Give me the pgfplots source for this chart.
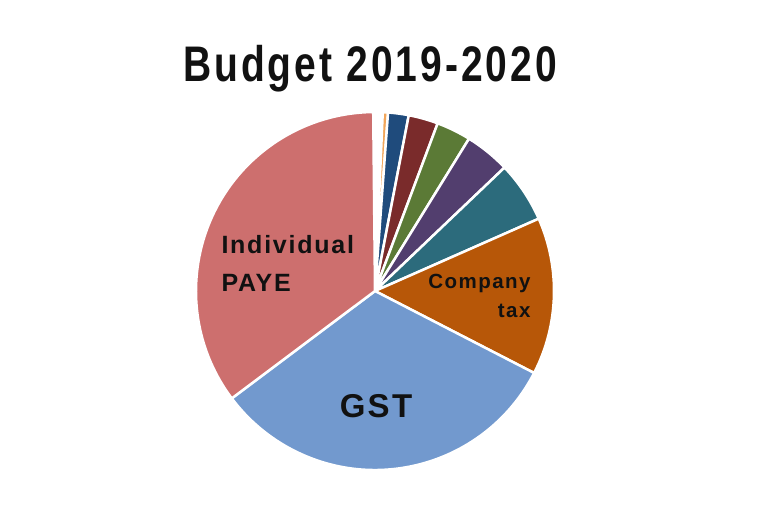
\documentclass[border=0pt]{standalone}
\usepackage{pgfplots}
\usepackage{pgfplotstable}
\pgfplotsset{compat=1.18}
\usepackage{fontspec}
\setmainfont{Liberation Sans}
\newfontfamily\titlefont[FakeStretch=0.78,LetterSpace=6]{Liberation Sans}
\newfontfamily\labelfont[LetterSpace=7]{Liberation Sans}

\definecolor{cpaye}{HTML}{CD6F6E}
\definecolor{cgst}{HTML}{7299CE}
\definecolor{ccomp}{HTML}{B75708}
\definecolor{cteal}{HTML}{2C6B7C}
\definecolor{cpurp}{HTML}{523E6E}
\definecolor{cgreen}{HTML}{5B7A36}
\definecolor{cdred}{HTML}{7A2B2B}
\definecolor{cblue}{HTML}{1F4B7C}
\definecolor{corange}{HTML}{F2A65A}
\definecolor{ctext}{HTML}{111111}

% share of each slice in percent, clockwise from 12 o'clock
\pgfplotstableread{
name     value  colour
gap      0.83   white
other1   0.47   corange
other2   1.86   cblue
other3   2.67   cdred
other4   3.11   cgreen
other5   4.08   cpurp
other6   5.50   cteal
company  14.19  ccomp
gst      32.19  cgst
paye     35.08  cpaye
}\slices

\newcommand\curang{90.5}
\newcommand\slice[2]{%
  \pgfmathsetmacro\endang{\curang-3.6*#1}%
  \edef\doslice{\noexpand\fill[#2,draw=white,line width=2.5pt,line join=round]
    (axis cs:375,216) -- ++(\curang:179pt)
    arc[start angle=\curang,end angle=\endang,radius=179pt] -- cycle;}%
  \doslice
  \global\let\curang\endang}

\begin{document}
\begin{tikzpicture}
\useasboundingbox (0,0) rectangle (760pt,507pt);
\begin{axis}[
    hide axis,
    x=1pt, y=1pt,
    xmin=0, xmax=760, ymin=0, ymax=507,
    clip=false
]
\pgfplotstablegetrowsof{\slices}
\pgfmathtruncatemacro\last{\pgfplotsretval-1}
\pgfplotsforeachungrouped \i in {0,...,\last}{%
  \pgfplotstablegetelem{\i}{value}\of\slices \let\v\pgfplotsretval
  \pgfplotstablegetelem{\i}{colour}\of\slices \let\c\pgfplotsretval
  \slice{\v}{\c}}

\node[anchor=base, text=ctext, font=\titlefont\bfseries\fontsize{50}{56}\selectfont]
  at (axis cs:370,425) {Budget 2019-2020};
\node[anchor=base west, text=ctext, font=\labelfont\bfseries\fontsize{25}{30}\selectfont]
  at (axis cs:218,254) {Individual};
\node[anchor=base west, text=ctext, font=\labelfont\bfseries\fontsize{25}{30}\selectfont]
  at (axis cs:218,216) {PAYE};
\node[anchor=base east, text=ctext, font=\labelfont\bfseries\fontsize{20.5}{24}\selectfont]
  at (axis cs:534,219) {Company};
\node[anchor=base east, text=ctext, font=\labelfont\bfseries\fontsize{20.5}{24}\selectfont]
  at (axis cs:534,190) {tax};
\node[anchor=base, text=ctext, font=\labelfont\bfseries\fontsize{33}{38}\selectfont]
  at (axis cs:376,90) {GST};
\end{axis}
\end{tikzpicture}
\end{document}
